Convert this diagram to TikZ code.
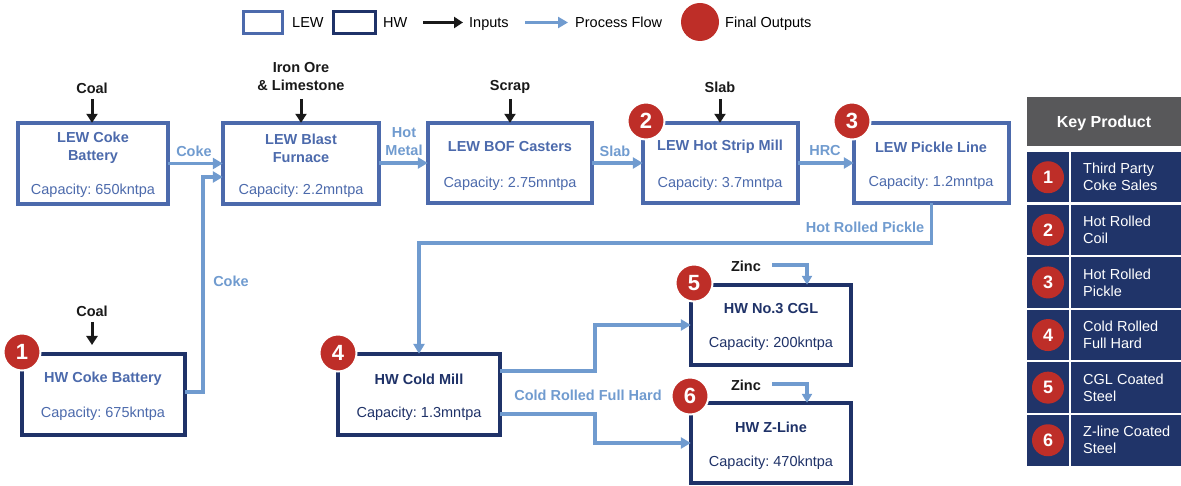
\documentclass[tikz,border=0pt]{standalone}
\usepackage{fontspec}
\setmainfont{Liberation Sans}
\usetikzlibrary{arrows.meta,calc}
\definecolor{lewblue}{RGB}{76,106,172}
\definecolor{hwnavy}{RGB}{31,50,104}
\definecolor{flowblue}{RGB}{112,155,207}
\definecolor{badgered}{RGB}{190,46,40}
\definecolor{headgray}{RGB}{88,88,90}
\definecolor{tabnavy}{RGB}{32,52,105}
\definecolor{inkblack}{RGB}{25,25,25}
\frenchspacing
\tikzset{
  box/.style={rectangle, line width=3.6pt, inner sep=0pt, outer sep=0pt, fill=white},
  lewbox/.style={box, draw=lewblue},
  hwbox/.style={box, draw=hwnavy},
  ttl/.style={font=\bfseries\fontsize{14.5}{18}\selectfont, align=center, inner sep=0pt},
  captxt/.style={font=\fontsize{14.5}{18}\selectfont, inner sep=0pt},
  inlab/.style={font=\bfseries\fontsize{14.5}{18}\selectfont, align=center, inner sep=0pt, text=inkblack},
  flowlab/.style={font=\bfseries\fontsize{14.5}{18}\selectfont, align=center, inner sep=0pt, text=flowblue},
  flow/.style={draw=flowblue, line width=3.3pt, -{Triangle[length=10pt,width=11pt]}},
  inarrow/.style={draw=inkblack, line width=3pt, -{Triangle[length=9pt,width=11pt]}},
  zincarrow/.style={draw=flowblue, line width=3.2pt, -{Triangle[length=9pt,width=10pt]}},
  badge/.style={circle, fill=badgered, draw=white, line width=2pt, minimum size=37pt, inner sep=0pt, text=white, font=\bfseries\fontsize{22}{22}\selectfont},
  tbadge/.style={circle, fill=badgered, minimum size=32pt, inner sep=0pt, text=white, font=\bfseries\fontsize{18}{18}\selectfont},
  legtxt/.style={font=\fontsize{14.5}{16}\selectfont, anchor=base west, inner sep=0pt},
  rowtxt/.style={font=\fontsize{14.5}{17}\selectfont, align=left, anchor=west, inner sep=0pt, text=white},
}
\begin{document}
\frenchspacing
\begin{tikzpicture}[x=1pt,y=-1pt]
\useasboundingbox (0,0) rectangle (1181,486);

% ---------- legend ----------
\node[lewbox, minimum width=39pt, minimum height=22pt] (leglew) at (263,22.5) {};
\node[legtxt] (leglewt) at (292,27.5) {LEW};
\node[hwbox, minimum width=42pt, minimum height=22pt] (leghw) at (354.5,22.5) {};
\node[legtxt] (leghwt) at (383,27.5) {HW};
\coordinate (legina) at (423,22.5);
\coordinate (leginb) at (463,22.5);
\draw[inarrow] (legina) -- (leginb);
\node[legtxt] (leginput) at (469,27.5) {Inputs};
\coordinate (legfla) at (525,22.5);
\coordinate (legflb) at (568,22.5);
\draw[flow] (legfla) -- (legflb);
\node[legtxt] (legflow) at (575,27.5) {Process Flow};
\node[circle, fill=badgered, minimum size=38pt, inner sep=0pt] (legred) at (700,22) {};
\node[legtxt] (legout) at (725,27.5) {Final Outputs};

% ---------- boxes ----------
\node[lewbox, minimum width=150.4pt, minimum height=81.4pt] (lcb) at (93,163.5) {};
\node[lewbox, minimum width=156.4pt, minimum height=81.4pt] (lbf) at (301,163.5) {};
\node[lewbox, minimum width=164.4pt, minimum height=80.4pt] (bof) at (510,163) {};
\node[lewbox, minimum width=155.4pt, minimum height=80.4pt] (hsm) at (720.5,163) {};
\node[lewbox, minimum width=155.4pt, minimum height=80.4pt] (lpl) at (931.5,163) {};
\node[hwbox, minimum width=163.4pt, minimum height=81.4pt] (hcb) at (103.5,394.5) {};
\node[hwbox, minimum width=162.4pt, minimum height=81.4pt] (hcm) at (419,394.5) {};
\node[hwbox, minimum width=160.4pt, minimum height=80.4pt] (cgl) at (771,325) {};
\node[hwbox, minimum width=160.4pt, minimum height=80.4pt] (zl) at (771,443) {};

% titles and capacities
\node[ttl, text=lewblue] (lcbt) at (93,148) {LEW Coke\\Battery};
\node[captxt, text=lewblue] (lcbc) at (93,191) {Capacity: 650kntpa};
\node[ttl, text=lewblue] (lbft) at (301,148) {LEW Blast\\Furnace};
\node[captxt, text=lewblue] (lbfc) at (301,191) {Capacity: 2.2mntpa};
\node[ttl, text=lewblue] (boft) at (510,147) {LEW BOF Casters};
\node[captxt, text=lewblue] (bofc) at (510,184) {Capacity: 2.75mntpa};
\node[ttl, text=lewblue] (hsmt) at (720,147) {LEW Hot Strip Mill};
\node[captxt, text=lewblue] (hsmc) at (720,184) {Capacity: 3.7mntpa};
\node[ttl, text=lewblue] (lplt) at (931,147) {LEW Pickle Line};
\node[captxt, text=lewblue] (lplc) at (931,183) {Capacity: 1.2mntpa};
\node[ttl, text=lewblue] (hcbt) at (103,379) {HW Coke Battery};
\node[captxt, text=lewblue] (hcbc) at (103,414) {Capacity: 675kntpa};
\node[ttl, text=hwnavy] (hcmt) at (419,379) {HW Cold Mill};
\node[captxt, text=hwnavy] (hcmc) at (419,414) {Capacity: 1.3mntpa};
\node[ttl, text=hwnavy] (cglt) at (771,309) {HW No.3 CGL};
\node[captxt, text=hwnavy] (cglc) at (771,344) {Capacity: 200kntpa};
\node[ttl, text=hwnavy] (zlt) at (771,427) {HW Z-Line};
\node[captxt, text=hwnavy] (zlc) at (771,463) {Capacity: 470kntpa};

% ---------- inputs ----------
\node[inlab] (coala) at (92,88) {Coal};
\draw[inarrow] (coala.south |- 0,99) -- (coala.south |- lcb.north);
\node[inlab] (ore) at (301,77) {Iron Ore\\\& Limestone};
\draw[inarrow] (ore.south |- 0,99) -- (ore.south |- lbf.north);
\node[inlab] (scrap) at (510,87) {Scrap};
\draw[inarrow] (scrap.south |- 0,99) -- (scrap.south |- bof.north);
\node[inlab] (slabin) at (720,87) {Slab};
\draw[inarrow] (slabin.south |- 0,99) -- (slabin.south |- hsm.north);
\node[inlab] (coalb) at (92,311) {Coal};
\draw[inarrow] (coalb.south |- 0,322) -- (coalb.south |- 0,345);
\node[inlab] (zinca) at (746,266) {Zinc};
\draw[zincarrow] ([xshift=11pt]zinca.east |- 0,265) -| (cgl.north -| 807,0);
\node[inlab] (zincb) at (746,385) {Zinc};
\draw[zincarrow] ([xshift=11pt]zincb.east |- 0,384) -| (zl.north -| 807,0);

% ---------- process flows ----------
\draw[flow] (lcb.east) -- (lbf.west);
\node[flowlab] (cokea) at (194,151) {Coke};
\draw[flow] (hcb.east |- 0,392) -- (203,392) -- (203,177) -- (lbf.west |- 0,177);
\node[flowlab] (cokeb) at (231,281) {Coke};
\draw[flow] (lbf.east |- 0,163) -- (bof.west);
\node[flowlab] (hotmetal) at (404,142) {Hot\\Metal};
\draw[flow] (bof.east) -- (hsm.west);
\node[flowlab] (slabf) at (615,151) {Slab};
\draw[flow] (hsm.east) -- (lpl.west);
\node[flowlab] (hrc) at (825,151) {HRC};
\draw[flow] (lpl.south) |- (hcm.north |- 0,243) -- (hcm.north);
\node[flowlab] (hrp) at (865,227) {Hot Rolled Pickle};
\draw[flow] (hcm.east |- 0,371) -- (595,371) |- (cgl.west);
\draw[flow] (hcm.east |- 0,414) -- (595,414) |- (zl.west);
\node[flowlab] (crfh) at (588,395) {Cold Rolled Full Hard};

% ---------- badges ----------
\node[badge] (b1) at (22,352) {1};
\node[badge] (b2) at (646,121) {2};
\node[badge] (b3) at (852,121) {3};
\node[badge] (b4) at (338,353) {4};
\node[badge] (b5) at (694,283) {5};
\node[badge] (b6) at (690,396) {6};

% ---------- key product table ----------
\node[fill=headgray, minimum width=154pt, minimum height=49pt, inner sep=0pt] (khead) at (1104,121.5) {};
\node[text=white, inner sep=0pt, font=\bfseries\fontsize{16}{16}\selectfont] (kheadt) at (1104,123.5) {Key Product};
\foreach \i/\ta/\tb in {1/Third Party/Coke Sales, 2/Hot Rolled/Coil, 3/Hot Rolled/Pickle, 4/Cold Rolled/Full Hard, 5/CGL Coated/Steel, 6/Z-line Coated/Steel}{
  \pgfmathsetmacro\yc{152+(\i-1)*52.6+25.25}
  \node[fill=tabnavy, minimum width=42pt, minimum height=50.5pt, inner sep=0pt] (lc\i) at (1048,\yc) {};
  \node[fill=tabnavy, minimum width=110pt, minimum height=50.5pt, inner sep=0pt] (rc\i) at (1126,\yc) {};
  \node[tbadge] (tb\i) at (lc\i.center) {\i};
  \node[rowtxt] (rt\i) at (1083,\yc) {\ta\\\tb};
}
\end{tikzpicture}
\end{document}
